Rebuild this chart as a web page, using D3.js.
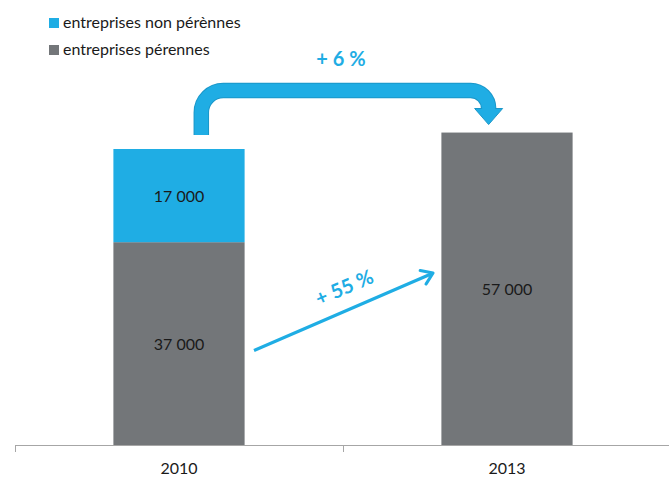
<!DOCTYPE html>
<html>
<head>
<meta charset="utf-8">
<script src="https://cdn.jsdelivr.net/npm/d3@7"></script>
<style>
  html, body { margin: 0; padding: 0; background: #fff; }
  svg { display: block; font-family: Lato, "Open Sans", sans-serif; }
</style>
</head>
<body>
<svg id="chart" width="669" height="477"></svg>
<script>
// Company counts by year
const years = ["2010", "2013"];
const perennes = [37000, 57000];
const nonPerennes = [17000, 0];
const seriesNames = ["entreprises non pérènnes", "entreprises pérennes"];
const growthLabels = ["+ 6 %", "+ 55 %"];

const BLUE = "#1fade4";
const BLUE_EDGE = "#1b97c9";
const GREY = "#737679";

const svg = d3.select("#chart");
const baseY = 445;

const x = d3.scaleBand()
  .domain(years)
  .range([15, 671])
  .paddingInner(0.6)
  .paddingOuter(0.3);

const y = d3.scaleLinear()
  .domain([0, 54000])
  .range([baseY, 149]);

const fmt = v => d3.format(",")(v).replace(/,/g, " ");

// Stacked bars
const rows = years.map((yr, i) => ({ year: yr, perennes: perennes[i], nonPerennes: nonPerennes[i] }));
const stack = d3.stack().keys(["perennes", "nonPerennes"]);
const layers = stack(rows);
const colors = { perennes: GREY, nonPerennes: BLUE };

layers.forEach(layer => {
  const g = svg.append("g");
  g.selectAll("rect")
    .data(layer.filter(d => d[1] > d[0]))
    .join("rect")
    .attr("x", d => x(d.data.year))
    .attr("width", x.bandwidth())
    .attr("y", d => y(d[1]))
    .attr("height", d => y(d[0]) - y(d[1]))
    .attr("fill", colors[layer.key]);
  g.selectAll("text")
    .data(layer.filter(d => d[1] > d[0]))
    .join("text")
    .attr("x", d => x(d.data.year) + x.bandwidth() / 2)
    .attr("y", d => (y(d[0]) + y(d[1])) / 2 + 6)
    .attr("text-anchor", "middle")
    .attr("font-size", 16)
    .attr("fill", "#1a1a1a")
    .text(d => fmt(d[1] - d[0]));
});

// Category axis
const axisLeft = x.range()[0];
const step = x.step();
svg.append("line")
  .attr("x1", axisLeft).attr("x2", 669)
  .attr("y1", baseY + 0.5).attr("y2", baseY + 0.5)
  .attr("stroke", "#a6a6a6").attr("stroke-width", 1);
d3.range(years.length + 1).forEach(i => {
  const tx = Math.round(axisLeft + i * step) + 0.5;
  svg.append("line")
    .attr("x1", tx).attr("x2", tx)
    .attr("y1", baseY).attr("y2", baseY + 7)
    .attr("stroke", "#a6a6a6");
});
svg.selectAll(".year")
  .data(years)
  .join("text")
  .attr("class", "year")
  .attr("x", d => x(d) + x.bandwidth() / 2)
  .attr("y", 474)
  .attr("text-anchor", "middle")
  .attr("font-size", 16)
  .attr("fill", "#1a1a1a")
  .text(d => d);

// Legend
const legend = svg.append("g");
[[BLUE, seriesNames[0], 18], [GREY, seriesNames[1], 45]].forEach(([c, t, ly]) => {
  legend.append("rect").attr("x", 49).attr("y", ly).attr("width", 10).attr("height", 10).attr("fill", c);
  legend.append("text").attr("x", 63).attr("y", ly + 10).attr("font-size", 16).attr("fill", "#1a1a1a").text(t);
});

// Bent arrow: from top of 2010 stack over to top of 2013 bar
const x0 = x(years[0]) + x.bandwidth() * 0.67;
const x1 = x(years[1]) + x.bandwidth() * 0.36;
const topY = 90.5;
const r0 = 22, r1 = 18;
const bentPath = `M${x0},${y(perennes[0] + nonPerennes[0]) - 14} V${topY + r0}
  A${r0},${r0} 0 0 1 ${x0 + r0},${topY} H${x1 - r1}
  A${r1},${r1} 0 0 1 ${x1},${topY + r1} V${topY + r1 + 1}`;
svg.append("path").attr("d", bentPath).attr("fill", "none")
  .attr("stroke", BLUE_EDGE).attr("stroke-width", 15.5);
svg.append("path").attr("d", bentPath).attr("fill", "none")
  .attr("stroke", BLUE).attr("stroke-width", 13.5);
const headTop = topY + r1;
const headTip = y(perennes[1]) - 8;
svg.append("path")
  .attr("d", `M${x1 - 14},${headTop} L${x1 + 14},${headTop} L${x1},${headTip} Z`)
  .attr("fill", BLUE).attr("stroke", BLUE_EDGE).attr("stroke-width", 1).attr("stroke-linejoin", "round");
svg.append("path")
  .attr("d", `M${x1 - 6.5},${headTop - 1} H${x1 + 6.5}`)
  .attr("stroke", BLUE).attr("stroke-width", 3);

svg.append("text")
  .attr("x", (x0 + x1) / 2 - 4)
  .attr("y", 66)
  .attr("text-anchor", "middle")
  .attr("font-size", 20)
  .attr("font-weight", "bold")
  .attr("fill", BLUE)
  .text(growthLabels[0]);

// Straight growth arrow for the perennial firms
const ax0 = 254, ay0 = 350.5, ax1 = 433, ay1 = 273;
svg.append("line")
  .attr("x1", ax0).attr("y1", ay0).attr("x2", ax1 - 2).attr("y2", ay1 + 1)
  .attr("stroke", BLUE).attr("stroke-width", 3.2);
const ang = Math.atan2(ay1 - ay0, ax1 - ax0);
const hl = 13, spread = 0.6;
svg.append("path")
  .attr("d", `M${ax1 - hl * Math.cos(ang - spread)},${ay1 - hl * Math.sin(ang - spread)}
    L${ax1},${ay1} L${ax1 - hl * Math.cos(ang + spread)},${ay1 - hl * Math.sin(ang + spread)}`)
  .attr("fill", "none").attr("stroke", BLUE).attr("stroke-width", 3.2)
  .attr("stroke-linecap", "round").attr("stroke-linejoin", "round");
svg.append("text")
  .attr("transform", `translate(347,294) rotate(${ang * 180 / Math.PI})`)
  .attr("text-anchor", "middle")
  .attr("font-size", 20)
  .attr("font-weight", "bold")
  .attr("fill", BLUE)
  .text(growthLabels[1]);
</script>
</body>
</html>
